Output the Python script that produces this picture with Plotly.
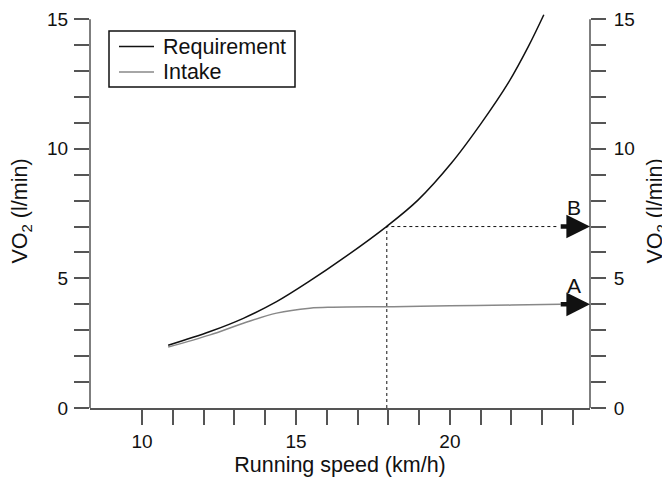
import plotly.graph_objects as go

# Data
req_x = [10.85, 12.21, 13.29, 14.37, 15.45, 16.54, 17.94, 18.97, 20.05, 21.02, 21.9, 22.55, 23.05]
req_y = [2.42, 2.95, 3.46, 4.10, 4.90, 5.78, 7.0, 8.03, 9.45, 10.99, 12.55, 13.95, 15.17]
int_x = [10.85, 12.21, 13.29, 14.37, 15.45, 16.2, 18.16, 20.0, 22.0, 23.6]
int_y = [2.35, 2.82, 3.27, 3.66, 3.85, 3.89, 3.91, 3.94, 3.97, 4.0]
guide_x = [17.95, 17.95, 23.5]
guide_y = [0, 7, 7]
series_names = ["Requirement", "Intake"]
series_colors = ["#111111", "#888888"]
arrow_labels = ["A", "B"]
arrow_y = [4.0, 7.0]
arrow_tail_x = 23.55
arrow_head_x = 24.55
x_ticks = list(range(10, 25))
x_labels = [str(v) if v % 5 == 0 else "" for v in x_ticks]
y_ticks = list(range(0, 16))
y_labels = [str(v) if v % 5 == 0 else "" for v in y_ticks]

FONT = "Liberation Sans, Arial, sans-serif"
AX = "#555555"

fig = go.Figure()
fig.add_trace(go.Scatter(x=req_x, y=req_y, mode="lines", name=series_names[0], showlegend=False,
                         line=dict(color=series_colors[0], width=1.5, shape="spline")))
fig.add_trace(go.Scatter(x=int_x, y=int_y, mode="lines", name=series_names[1], showlegend=False,
                         line=dict(color=series_colors[1], width=1.5, shape="spline")))
fig.add_trace(go.Scatter(x=guide_x, y=guide_y, mode="lines", showlegend=False,
                         line=dict(color="#111111", width=1, dash="dot")))
fig.add_trace(go.Scatter(x=[req_x[0]], y=[req_y[0]], yaxis="y2", mode="markers",
                         marker=dict(opacity=0), showlegend=False, hoverinfo="skip"))

for lab, yv in zip(arrow_labels, arrow_y):
    fig.add_annotation(x=arrow_head_x, y=yv, ax=arrow_tail_x, ay=yv, axref="x", ayref="y",
                       xref="x", yref="y", showarrow=True, arrowhead=2, arrowsize=1.05,
                       arrowwidth=4.5, arrowcolor="#111111", text="")
    fig.add_annotation(x=24.02, y=yv + 0.72, xref="x", yref="y", text=lab, showarrow=False,
                       font=dict(size=21, color="#111111", family=FONT))

yr = [0, 15.2]
for xp in (0, 1):
    fig.add_shape(type="line", xref="paper", yref="y", x0=xp, x1=xp, y0=0, y1=15,
                  line=dict(color=AX, width=1.5))

# legend box (drawn by hand to match compact spacing)
fig.add_shape(type="rect", xref="paper", yref="paper", x0=0.038, x1=0.41, y0=0.8147, y1=0.9569,
              line=dict(color="#111111", width=1.5), fillcolor="white", layer="above")
for name, col, ly in zip(series_names, series_colors, [0.9175, 0.8528]):
    fig.add_shape(type="line", xref="paper", yref="paper", x0=0.058, x1=0.128, y0=ly, y1=ly,
                  line=dict(color=col, width=1.5), layer="above")
    fig.add_annotation(x=0.141, y=ly, xref="paper", yref="paper", text=name, showarrow=False,
                       xanchor="left", yanchor="middle",
                       font=dict(size=21.5, color="#111111", family=FONT))

TICKF = dict(size=19, color="#111111")
TITLEF = dict(size=21.5, color="#111111")

fig.update_layout(
    width=662, height=469,
    margin=dict(l=82, r=80, t=6, b=69),
    paper_bgcolor="white", plot_bgcolor="white",
    font=dict(family=FONT, size=19, color="#111111"),
    xaxis=dict(range=[8.31, 24.55], tickvals=x_ticks, ticktext=x_labels, automargin=False,
               ticks="outside", ticklen=15, tickwidth=1.5, tickcolor=AX,
               showline=True, linecolor=AX, linewidth=1.5, showgrid=False, zeroline=False,
               title=dict(text="Running speed (km/h)", font=TITLEF, standoff=8),
               tickfont=TICKF),
    yaxis=dict(range=yr, tickvals=y_ticks, ticktext=y_labels, automargin=False,
               ticklabelstandoff=2,
               ticks="outside", ticklen=15, tickwidth=1.5, tickcolor=AX,
               showline=False, showgrid=False, zeroline=False,
               title=dict(text="VO<sub>2</sub> (l/min)", font=TITLEF, standoff=14),
               tickfont=TICKF),
    yaxis2=dict(range=yr, overlaying="y", side="right", tickvals=y_ticks, ticktext=y_labels,
                automargin=False, ticklabelstandoff=4,
                ticks="outside", ticklen=15, tickwidth=1.5, tickcolor=AX,
                showline=False, showgrid=False, zeroline=False,
                title=dict(text="VO<sub>2</sub> (l/min)", font=TITLEF, standoff=13),
                tickfont=TICKF),
    showlegend=False,
)

fig.write_html("out.html")
